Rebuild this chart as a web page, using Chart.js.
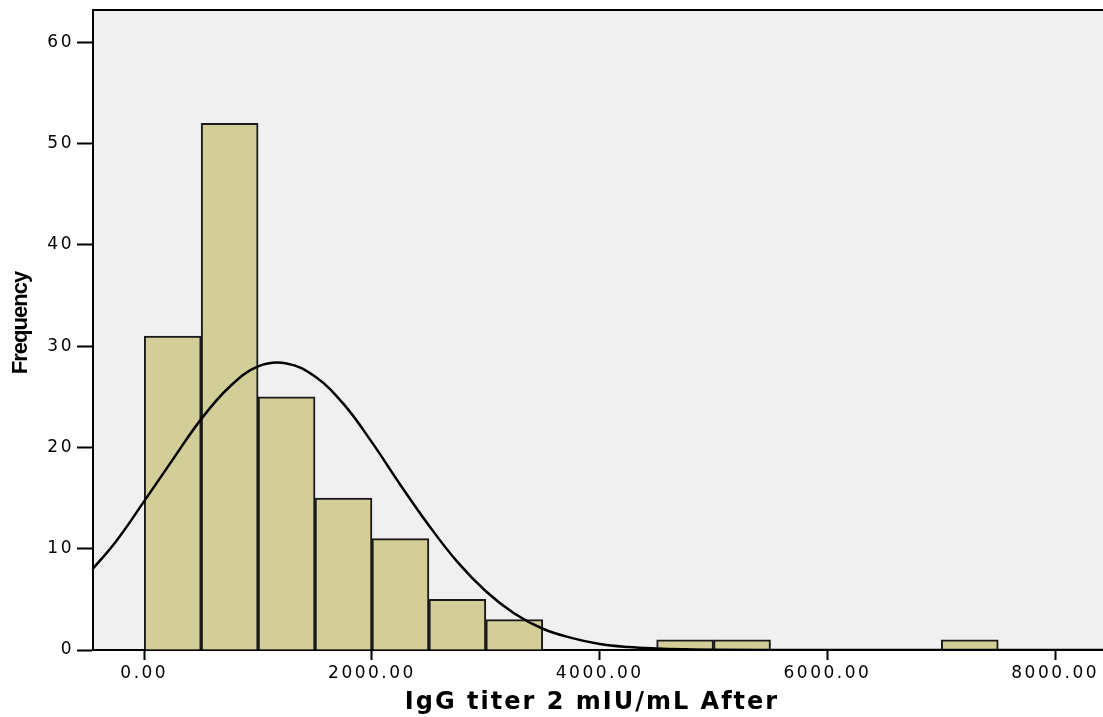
<!DOCTYPE html>
<html lang="en">
<head>
  <meta charset="UTF-8" />
  <title>IgG titer 2 mIU/mL After - Histogram</title>
  <script src="https://cdn.jsdelivr.net/npm/chart.js"></script>
  <style>
    html, body { margin: 0; padding: 0; background: #fff; }
    #wrap { width: 1103px; height: 717px; }
  </style>
</head>
<body>
  <div id="wrap"><canvas id="hist" width="1103" height="717"></canvas></div>

  <script>
    // histogram bins (lower edge, width 500) and counts
    const binStart = [0, 500, 1000, 1500, 2000, 2500, 3000, 4500, 5000, 7000];
    const binCount = [31, 52, 25, 15, 11, 5, 3, 1, 1, 1];
    const binWidth = 500;

    // normal curve
    const curveX = [-500, -250, 0, 250, 500, 750, 1000, 1250, 1500, 1750, 2000, 2250, 2500, 2750, 3000, 3250, 3500, 3750, 4000, 4250, 4500, 4750, 5000, 6000, 7000, 8500];
    const curveY = [7.4, 10.7, 14.7, 18.8, 22.8, 26.0, 28.0, 28.3, 27.0, 24.3, 20.5, 16.3, 12.3, 8.7, 5.8, 3.6, 2.1, 1.2, 0.6, 0.3, 0.15, 0.07, 0.03, 0, 0, 0];

    const xTicks = [0, 2000, 4000, 6000, 8000];
    const yTicks = [0, 10, 20, 30, 40, 50, 60];

    const xTitle = 'IgG titer 2 mIU/mL After';
    const yTitle = 'Frequency';

    const bars = binStart.map((s, i) => ({ x: s + binWidth / 2, y: binCount[i] }));
    const curve = curveX.map((x, i) => ({ x: x, y: curveY[i] }));

    // grey plot background, top frame line, wide-spaced labels and the two axis titles
    const plotFrame = {
      id: 'plotFrame',
      beforeDraw(chart) {
        const { ctx, chartArea: a } = chart;
        ctx.save();
        ctx.fillStyle = '#f0f0f0';
        ctx.fillRect(a.left, a.top, a.right - a.left, a.bottom - a.top);
        ctx.restore();
        ctx.letterSpacing = '2.5px';
      },
      afterDraw(chart) {
        const { ctx, chartArea: a } = chart;
        ctx.save();
        ctx.strokeStyle = '#000';
        ctx.lineWidth = 2;
        ctx.beginPath();
        ctx.moveTo(a.left, a.top);
        ctx.lineTo(a.right, a.top);
        ctx.stroke();

        ctx.fillStyle = '#000';
        ctx.textAlign = 'center';
        ctx.letterSpacing = '2px';
        ctx.font = 'bold 24px "DejaVu Sans"';
        ctx.textBaseline = 'alphabetic';
        ctx.fillText(xTitle, 592, 709);

        ctx.letterSpacing = '-1px';
        ctx.font = 'bold 22px "Liberation Sans"';
        ctx.translate(21, 323);
        ctx.rotate(-Math.PI / 2);
        ctx.textBaseline = 'middle';
        ctx.fillText(yTitle, 0, 0);
        ctx.restore();
      }
    };

    new Chart(document.getElementById('hist').getContext('2d'), {
      type: 'bar',
      data: {
        datasets: [
          {
            type: 'line',
            data: curve,
            borderColor: '#000',
            borderWidth: 2.5,
            pointRadius: 0,
            tension: 0.4,
            fill: false,
            order: 0
          },
          {
            type: 'bar',
            data: bars,
            backgroundColor: '#d3ce98',
            borderColor: '#1a1a1a',
            borderWidth: 2,
            borderSkipped: 'bottom',
            barPercentage: 1,
            categoryPercentage: 1,
            order: 1
          }
        ]
      },
      options: {
        responsive: false,
        animation: false,
        devicePixelRatio: 1,
        layout: { padding: { top: 10, left: 0, right: 0, bottom: 0 } },
        plugins: {
          legend: { display: false },
          tooltip: { enabled: false }
        },
        scales: {
          x: {
            type: 'linear',
            min: -450,
            max: 8420,
            offset: false,
            afterBuildTicks: s => { s.ticks = xTicks.map(v => ({ value: v })); },
            afterFit: s => { s.height = 67; s.paddingLeft = 0; s.paddingRight = 0; },
            grid: { offset: false, drawOnChartArea: false, tickLength: 10, tickWidth: 2, tickColor: '#000' },
            border: { display: true, color: '#000', width: 2 },
            ticks: {
              color: '#000',
              padding: 3,
              maxRotation: 0,
              autoSkip: false,
              font: { family: '"DejaVu Sans"', size: 17 },
              callback: v => v.toFixed(2)
            }
          },
          y: {
            min: 0,
            max: 63.2,
            afterBuildTicks: s => { s.ticks = yTicks.map(v => ({ value: v })); },
            afterFit: s => { s.width = 93; s.paddingTop = 0; s.paddingBottom = 0; },
            grid: { drawOnChartArea: false, tickLength: 16, tickWidth: 2, tickColor: '#000' },
            border: { display: true, color: '#000', width: 2 },
            ticks: {
              color: '#000',
              padding: 3,
              font: { family: '"DejaVu Sans"', size: 17 }
            }
          }
        }
      },
      plugins: [plotFrame]
    });
  </script>
</body>
</html>
